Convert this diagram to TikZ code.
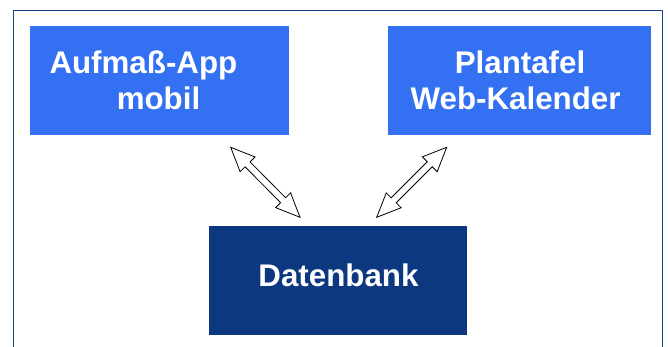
\documentclass[tikz,border=0pt]{standalone}
\usepackage{fontspec}
\setmainfont{Liberation Sans}
\usetikzlibrary{calc}
\definecolor{boxblue}{RGB}{51,112,242}
\definecolor{dbblue}{RGB}{12,56,128}
\definecolor{framecol}{RGB}{24,62,138}
\tikzset{
  box/.style={draw=none, inner sep=0pt, anchor=north west},
  lbl/.style={text=white, inner sep=0pt, font=\bfseries\fontsize{31.3}{35}\selectfont},
  harrow/.style={draw=black, fill=white, line width=0.8pt, line join=miter},
}
% double hollow arrow between two coordinates
\newcommand{\hollowdbl}[2]{%
  \draw[harrow] let \p1=($(#2)-(#1)$), \n1={atan2(\y1,\x1)}, \n2={veclen(\x1,\y1)} in
    [shift={(#1)}, rotate=\n1]
    (0,0) -- (24,10.5) -- (24,3.5) -- (\n2-24,3.5) -- (\n2-24,10.5) -- (\n2,0)
    -- (\n2-24,-10.5) -- (\n2-24,-3.5) -- (24,-3.5) -- (24,-10.5) -- cycle;}
\begin{document}
\begin{tikzpicture}[x=1pt,y=-1pt]
\useasboundingbox (0,0) rectangle (668,347);
\fill[white] (0,0) rectangle (668,347);
% frame
\draw[framecol, line width=1.5pt] (13.5,352) -- (13.5,10.5) -- (662.5,10.5) -- (662.5,352);
% boxes
\node[box, fill=boxblue, minimum width=258.7pt, minimum height=109pt] (app) at (30,25.7) {};
\node[box, fill=boxblue, minimum width=263pt, minimum height=109pt] (plan) at (388,26) {};
\node[box, fill=dbblue, minimum width=258.5pt, minimum height=108.7pt] (db) at (208.3,226) {};
% labels
\node[lbl, anchor=base west] (appA) at (49.3,73.5) {Aufmaß-App};
\node[lbl, anchor=base] (appB) at (158.5,110) {mobil};
\node[lbl, anchor=base] (planA) at (520,74) {Plantafel};
\node[lbl, anchor=base] (planB) at (515.6,110) {Web-Kalender};
\node[lbl, anchor=base] (dbA) at (338.5,286.7) {Datenbank};
% arrow ends
\coordinate (a1) at (230.7,147.3);
\coordinate (a2) at (300,217.3);
\coordinate (b1) at (446.7,147.3);
\coordinate (b2) at (376.7,217.3);
\hollowdbl{a1}{a2}
\hollowdbl{b1}{b2}
\end{tikzpicture}
\end{document}
